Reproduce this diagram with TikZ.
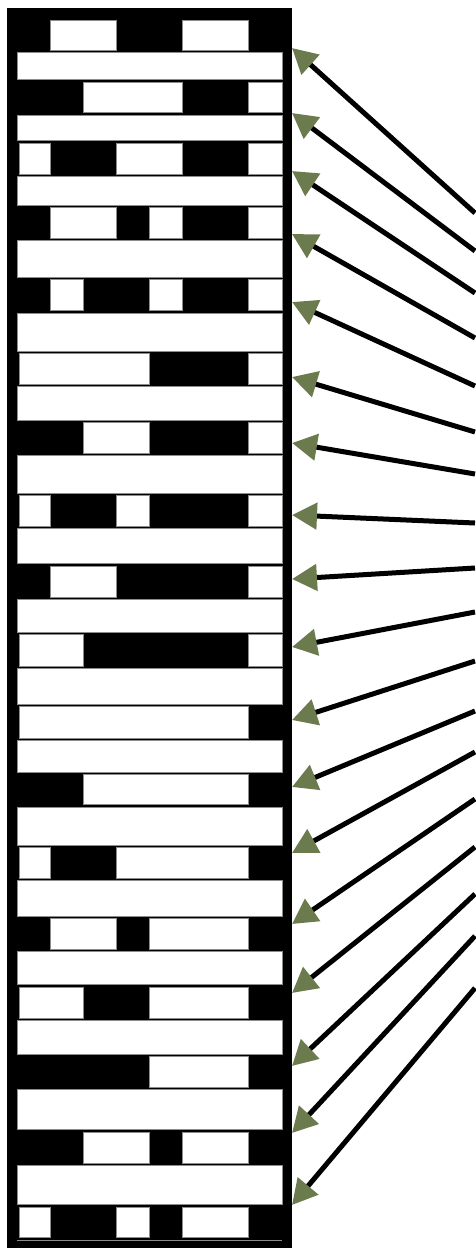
\documentclass[tikz,border=0pt]{standalone}
\usepackage{tikz}
\usetikzlibrary{arrows.meta}
\definecolor{tipgreen}{HTML}{6B7B4E}
\definecolor{edgegrey}{HTML}{8C8C8C}

\begin{document}
\begin{tikzpicture}[x=1pt, y=-1pt,
    cell/.style={fill=white, draw=edgegrey, line width=0.8pt},
    feed/.style={line width=5pt, -{Triangle[length=25pt, width=26pt, color=tipgreen]}}]
  \useasboundingbox (0,0) rectangle (475,1248);
  \fill[black] (7,8) rectangle (292,1248);
  % slot rows: white runs as first/last of 8 columns
  \foreach \t/\b/\runs in {20/50/{2/3,6/7}, 82/112/{3/5,8/8}, 143/174/{1/1,4/5,8/8},
      207/238/{2/3,5/5,8/8}, 279/310/{2/2,5/5,8/8}, 353/384/{1/4,8/8},
      422/453/{3/4,8/8}, 495/526/{1/1,4/4,8/8}, 566/597/{2/3,8/8},
      634/666/{1/2,8/8}, 706/738/{1/7}, 774/804/{3/7},
      847/878/{1/1,4/7}, 918/949/{2/3,5/7}, 987/1018/{1/2,5/7},
      1056/1087/{5/7}, 1132/1163/{3/4,6/7}, 1207/1237/{1/1,4/4,6/7}} {
    \foreach \a/\e in \runs {
      \pgfmathsetmacro\xa{\a==1 ? 19 : 17+33.125*(\a-1)}
      \path[cell] (\xa,\t) rectangle ({17+33.125*\e},\b);
    }
  }
  % full-width bars between the rows
  \foreach \t/\b in {52/79, 115/140, 176/205, 240/277, 313/351, 386/420, 455/493,
      528/563, 599/632, 668/704, 740/772, 807/845, 880/916, 951/984,
      1020/1054, 1089/1129, 1165/1204}
    \path[cell] (17,\t) rectangle (282,\b);
  \draw[edgegrey, line width=1pt] (17,1240) -- (282,1240);
  % feed lines: source y at right edge / tip y at the rack
  \foreach \i/\ys/\yt in {1/213/48, 2/251/113, 3/293/171, 4/338/234, 5/386/302,
      6/432/377, 7/474/443, 8/523/515, 9/568/579, 10/612/647, 11/661/720,
      12/711/787, 13/752/853, 14/799/924, 15/847/993, 16/894/1066,
      17/936/1133, 18/988/1205} {
    \coordinate (src\i) at (475,\ys);
    \coordinate (tip\i) at (292,\yt);
    \draw[feed] (src\i) -- (tip\i);
  }
\end{tikzpicture}
\end{document}
